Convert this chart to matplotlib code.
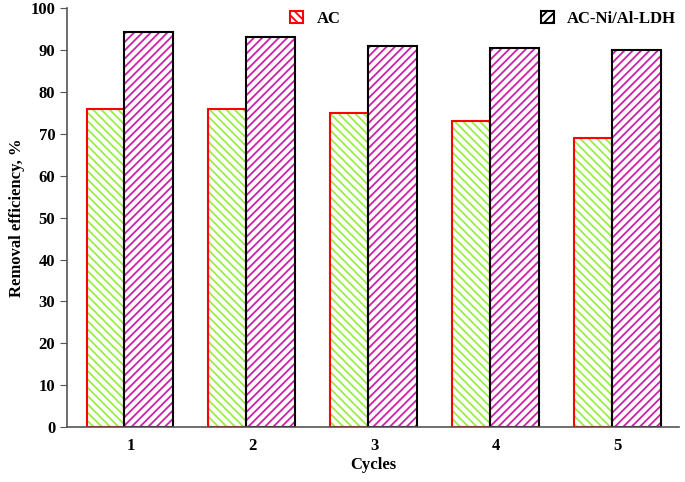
import matplotlib.pyplot as plt
from matplotlib.patches import Rectangle
import numpy as np

plt.rcParams['font.family'] = 'Liberation Serif'
plt.rcParams['font.weight'] = 'bold'
plt.rcParams['hatch.linewidth'] = 1.3

cycles = [1, 2, 3, 4, 5]
ac = [76, 76, 75, 73, 69]
ac_ldh = [94.2, 93.2, 91.0, 90.5, 90.0]

green = '#99ee44'
magenta = '#cc22aa'

fig = plt.figure(figsize=(6.85, 4.82), dpi=100)
ax = fig.add_axes([0.098, 0.114, 0.893, 0.869])
x = np.array(cycles)

# hatch layers (edgecolor gives hatch colour), then outlines on top
ax.bar(x - 0.36, ac, width=0.31, align='edge', facecolor='white', edgecolor=green,
       hatch='\\\\\\\\', linewidth=0)
ax.bar(x - 0.05, ac_ldh, width=0.40, align='edge', facecolor='white', edgecolor=magenta,
       hatch='////', linewidth=0)
ax.bar(x - 0.36, ac, width=0.31, align='edge', facecolor='none', edgecolor='red', linewidth=1.5)
ax.bar(x - 0.05, ac_ldh, width=0.40, align='edge', facecolor='none', edgecolor='black', linewidth=1.5)

ax.set_xlim(0.48, 5.5)
ax.set_ylim(0, 100)
ax.set_yticks(range(0, 101, 10))
ax.set_xticks(cycles)
ax.tick_params(axis='y', direction='out', labelsize=12, color='#555555', length=5)
ax.tick_params(axis='x', length=0, labelsize=12, pad=8)
for s in ['top', 'right']:
    ax.spines[s].set_visible(False)
for s in ['left', 'bottom']:
    ax.spines[s].set_color('#555555')
    ax.spines[s].set_linewidth(1.2)
ax.set_xlabel('Cycles', fontsize=12, fontweight='bold', labelpad=2)
ax.set_ylabel('Removal efficiency, %', fontsize=12, fontweight='bold')

h1 = Rectangle((0, 0), 1, 1, facecolor='white', edgecolor='red', hatch='\\\\\\\\', linewidth=1.5)
h2 = Rectangle((0, 0), 1, 1, facecolor='white', edgecolor='black', hatch='////', linewidth=1.5)
ax.legend([h1, h2], ['AC', 'AC-Ni/Al-LDH'], ncol=2, frameon=False, loc='upper left',
          bbox_to_anchor=(0.34, 1.03), fontsize=12, handlelength=0.8, handleheight=0.8,
          columnspacing=12)
fig.savefig('out.png', dpi=100)
